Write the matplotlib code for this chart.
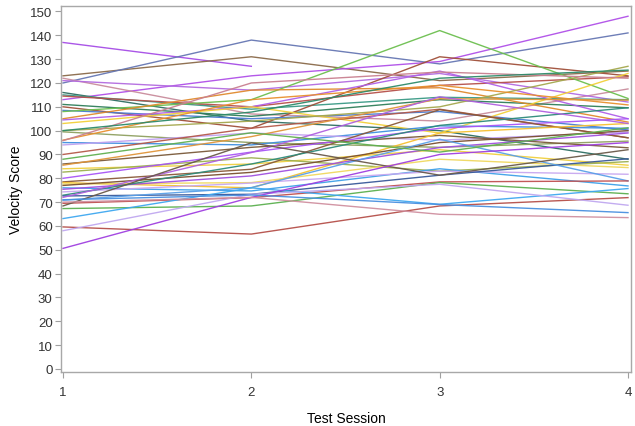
import numpy as np
import matplotlib
matplotlib.use("Agg")
import matplotlib.pyplot as plt

sessions = [1, 2, 3, 4]
nan = np.nan

# Velocity scores per subject across the four test sessions
s1 = [137, 123, 120, 113, 122, 121, 116, 115, 114.5, 111, 110, 108.5, 108, 105, 104.5, 103,
      100, 99.5, 96, 95.8, 95, 94, 90, 86, 85.5, 84, 82.6, 80, 78.5, 78.2, 77.6, 77, 76,
      75.4, 74.3, 72.9, 72.6, 72, 70.8, 69.5, 68.4, 67.3, 63.1, 59.6, 58, 50.6, 88, 100, 70, 71]
s2 = [127, 131, 138, 123, 107, 117, 104, 109, 110, 106, 101, 105, 113, 117, 110, 110,
      104, 95, 113, 120, 94, 99, 101, 93, 97.5, 86, 88.6, 91, 83.8, 76, 78.2, 82.5, 74.7,
      81, 78, 86, 73.3, 90.8, 76.1, 71.9, 94.9, 68.4, 76, 56.6, 73.3, 72, 99.1, 107.8, 72, 73]
s3 = [nan, 121, 128, 129, 104, 124, 100, 114, 119, 113, 131, 108, 142, 118, 125, 99,
      110, 93, 119, 124.6, 102, 96, 109, 98, 113.4, 92, 83, 101, 108.8, 99, 88, 95, 84,
      92.9, 83, 102.2, 81.3, 114.2, 96.4, 78.5, 81.3, 78.2, 69.1, 68.4, 77.5, 90, 91, 122, 64.9, 69]
s4 = [nan, 125, 141, 148, 117.5, 112, 88, 113, 122.6, 109.6, 123, 100.3, 113.5, 103.6, 105, 124,
      127, 95.6, 110.8, 122, 101, 99.4, 97, 92.8, 112.8, 85.5, 87, 105, 97, 103, 84.5, 100, 76.8,
      99, 81.7, 109.6, 88.2, 103, 78.9, 78.9, 92, 73.5, 75.7, 71.9, 68.7, 95, 101.2, 125.4, 63.5, 65.6]

palette = ['#A64DE6', '#8A6A4A', '#6677B3', '#B050E8', '#C98C9C', '#B36BE0', '#2E6E62',
           '#3A9A86', '#B5504A', '#2F7F5A', '#A0503A', '#4A7BD0', '#6CBF4F', '#E08A2E',
           '#B060E8', '#F2D03A', '#A5A84E', '#8FA060', '#E8902E', '#C98090', '#3F8FE0',
           '#C0A0F0', '#B55A4A', '#7A5A3A', '#E0953A', '#F0D040', '#9CB050', '#A855F7',
           '#8A5A3A', '#F5C030', '#F0D860', '#7A5030', '#3FA0E8', '#A050E0', '#C8A8F0',
           '#2E8B7A', '#3A5A9A', '#B060E0', '#5AA0E8', '#C05050', '#6A5A4A', '#5CB050',
           '#3FA8F0', '#B5504A', '#C0A8F0', '#A040E0', '#60B050', '#2E8B6A', '#D090A0', '#4A90E0']

fig = plt.figure(figsize=(6.35, 4.27), dpi=100)
ax = fig.add_axes([61/635, 1-373.3/427, 570/635, (373.3-7)/427])

for i in range(len(s1)):
    vals = [s1[i], s2[i], s3[i], s4[i]]
    ax.plot(sessions, vals, color=palette[i % len(palette)], lw=1.0, alpha=0.95)

ax.set_xlim(1 - 2/188.3, 4 + 3/188.3)
ax.set_ylim(-1.4, 152.3)
ax.set_xticks(sessions)
ax.set_yticks(np.arange(0, 151, 10))

font = ['Liberation Sans', 'DejaVu Sans']
for lab in ax.get_xticklabels() + ax.get_yticklabels():
    lab.set_family(font)
    lab.set_fontsize(9.5)
ax.tick_params(axis='both', colors='#333333', length=4, width=0.8, color='#A0A0A0')
ax.tick_params(axis='x', pad=6)
ax.tick_params(axis='y', pad=2)
for sp in ax.spines.values():
    sp.set_color('#A8A8A8')
    sp.set_linewidth(1.0)

ax.set_xlabel('Test Session', family=font, fontsize=10, labelpad=9)
ax.set_ylabel('Velocity Score', family=font, fontsize=10, labelpad=5)

fig.savefig('out.png', dpi=100)
